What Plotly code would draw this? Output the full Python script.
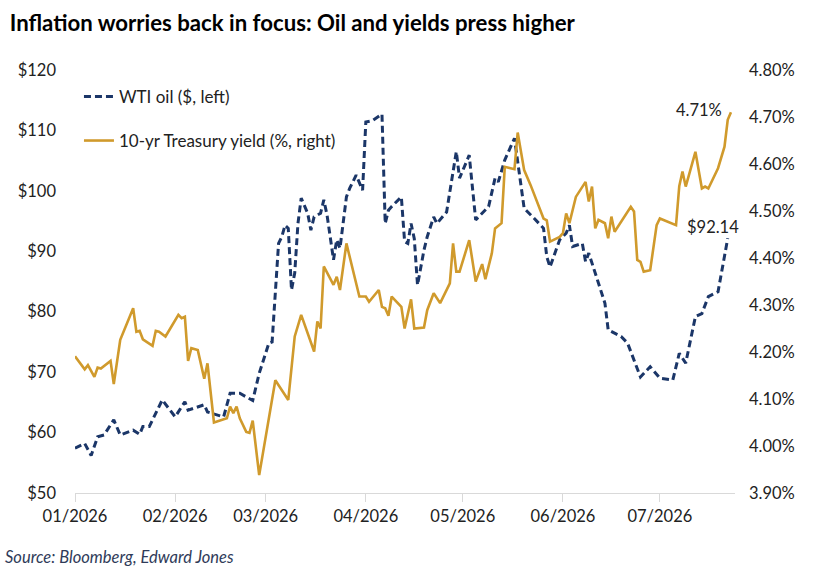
import plotly.graph_objects as go

# ---- data ----
oil_dates = [
    "2026-01-01", "2026-01-04", "2026-01-06", "2026-01-08", "2026-01-10", "2026-01-13",
    "2026-01-15", "2026-01-19", "2026-01-21", "2026-01-22", "2026-01-24", "2026-01-28",
    "2026-02-01", "2026-02-04", "2026-02-05", "2026-02-10", "2026-02-11", "2026-02-16",
    "2026-02-18", "2026-02-21", "2026-02-25", "2026-02-27", "2026-03-02", "2026-03-03",
    "2026-03-05", "2026-03-06", "2026-03-07", "2026-03-08", "2026-03-09", "2026-03-10",
    "2026-03-11", "2026-03-12", "2026-03-14", "2026-03-15", "2026-03-16", "2026-03-18",
    "2026-03-19", "2026-03-20", "2026-03-22", "2026-03-23", "2026-03-24", "2026-03-26",
    "2026-03-27", "2026-03-29", "2026-03-31", "2026-04-01", "2026-04-03", "2026-04-06",
    "2026-04-07", "2026-04-08", "2026-04-09", "2026-04-12", "2026-04-13", "2026-04-14",
    "2026-04-15", "2026-04-16", "2026-04-17", "2026-04-19", "2026-04-20", "2026-04-22",
    "2026-04-23", "2026-04-26", "2026-04-29", "2026-04-30", "2026-05-03", "2026-05-05",
    "2026-05-09", "2026-05-11", "2026-05-12", "2026-05-14", "2026-05-17", "2026-05-20",
    "2026-05-23", "2026-05-26", "2026-05-27", "2026-05-28", "2026-05-31", "2026-06-02",
    "2026-06-03", "2026-06-04", "2026-06-07", "2026-06-08", "2026-06-09", "2026-06-14",
    "2026-06-15", "2026-06-19", "2026-06-21", "2026-06-23", "2026-06-25", "2026-06-28",
    "2026-07-01", "2026-07-05", "2026-07-07", "2026-07-09", "2026-07-12", "2026-07-14",
    "2026-07-16", "2026-07-19", "2026-07-22",
]
oil_price = [
    57.4, 58.2, 56.2, 59.3, 59.6, 62.1,
    59.6, 60.4, 59.7, 61.0, 61.0, 65.4,
    62.6, 65.1, 63.7, 64.6, 63.4, 62.6,
    66.5, 66.5, 65.3, 69.8, 74.8, 75.0,
    91.3, 92.4, 94.3, 93.8, 83.6, 86.4,
    94.6, 98.8, 96.3, 93.5, 95.7, 96.3,
    98.5, 96.0, 88.6, 91.9, 90.5, 99.0,
    100.4, 102.6, 100.1, 111.4, 111.6, 112.7,
    94.6, 96.8, 97.4, 99.0, 91.6, 91.3,
    94.6, 92.1, 84.4, 90.2, 92.4, 95.7,
    94.6, 96.5, 106.5, 102.1, 105.9, 95.2,
    97.4, 102.1, 101.5, 105.1, 108.7, 97.1,
    95.5, 93.8, 89.1, 87.4, 91.9, 93.0,
    94.3, 90.8, 91.3, 88.3, 89.7, 81.4,
    77.0, 75.9, 74.8, 72.0, 69.2, 70.9,
    69.0, 68.7, 73.1, 71.5, 79.2, 79.7,
    82.5, 83.3, 92.14,
]

yield_dates = [
    "2026-01-01", "2026-01-04", "2026-01-05", "2026-01-07", "2026-01-08", "2026-01-09",
    "2026-01-12", "2026-01-13", "2026-01-15", "2026-01-19", "2026-01-20", "2026-01-21",
    "2026-01-22", "2026-01-25", "2026-01-26", "2026-01-27", "2026-01-29", "2026-02-02",
    "2026-02-03", "2026-02-04", "2026-02-05", "2026-02-06", "2026-02-08", "2026-02-10",
    "2026-02-11", "2026-02-13", "2026-02-17", "2026-02-18", "2026-02-19", "2026-02-20",
    "2026-02-21", "2026-02-23", "2026-02-24", "2026-02-25", "2026-02-27", "2026-03-02",
    "2026-03-04", "2026-03-08", "2026-03-10", "2026-03-12", "2026-03-16", "2026-03-17",
    "2026-03-18", "2026-03-19", "2026-03-22", "2026-03-23", "2026-03-24", "2026-03-26",
    "2026-03-30", "2026-04-01", "2026-04-02", "2026-04-05", "2026-04-06", "2026-04-07",
    "2026-04-08", "2026-04-09", "2026-04-12", "2026-04-13", "2026-04-15", "2026-04-16",
    "2026-04-19", "2026-04-20", "2026-04-22", "2026-04-24", "2026-04-27", "2026-04-28",
    "2026-04-29", "2026-04-30", "2026-05-03", "2026-05-05", "2026-05-07", "2026-05-08",
    "2026-05-10", "2026-05-11", "2026-05-13", "2026-05-14", "2026-05-17", "2026-05-18",
    "2026-05-20", "2026-05-22", "2026-05-26", "2026-05-27", "2026-05-28", "2026-05-31",
    "2026-06-01", "2026-06-02", "2026-06-03", "2026-06-05", "2026-06-08", "2026-06-09",
    "2026-06-10", "2026-06-11", "2026-06-12", "2026-06-14", "2026-06-15", "2026-06-16",
    "2026-06-17", "2026-06-22", "2026-06-23", "2026-06-24", "2026-06-25", "2026-06-26",
    "2026-06-28", "2026-06-30", "2026-07-01", "2026-07-06", "2026-07-07", "2026-07-08",
    "2026-07-09", "2026-07-12", "2026-07-14", "2026-07-15", "2026-07-16", "2026-07-19",
    "2026-07-21", "2026-07-22", "2026-07-23",
]
yield_pct = [
    4.191, 4.163, 4.172, 4.147, 4.167, 4.165,
    4.181, 4.132, 4.226, 4.293, 4.243, 4.245,
    4.227, 4.213, 4.245, 4.243, 4.233, 4.279,
    4.272, 4.275, 4.181, 4.208, 4.204, 4.143,
    4.176, 4.050, 4.059, 4.084, 4.070, 4.084,
    4.059, 4.030, 4.028, 4.054, 3.938, 4.062,
    4.140, 4.098, 4.233, 4.279, 4.201, 4.265,
    4.250, 4.382, 4.343, 4.360, 4.332, 4.431,
    4.318, 4.318, 4.307, 4.332, 4.296, 4.293,
    4.277, 4.318, 4.296, 4.250, 4.312, 4.250,
    4.252, 4.289, 4.325, 4.304, 4.346, 4.431,
    4.371, 4.371, 4.438, 4.350, 4.387, 4.355,
    4.410, 4.463, 4.474, 4.594, 4.589, 4.667,
    4.587, 4.555, 4.484, 4.480, 4.435, 4.445,
    4.453, 4.495, 4.474, 4.530, 4.562, 4.520,
    4.552, 4.463, 4.481, 4.474, 4.442, 4.488,
    4.456, 4.509, 4.499, 4.396, 4.392, 4.371,
    4.374, 4.470, 4.484, 4.470, 4.553, 4.584,
    4.552, 4.626, 4.548, 4.552, 4.548, 4.591,
    4.637, 4.694, 4.71,
]

oil_ticks = [50, 60, 70, 80, 90, 100, 110, 120]
yield_ticks = [3.9, 4.0, 4.1, 4.2, 4.3, 4.4, 4.5, 4.6, 4.7, 4.8]
oil_ticktext = [f"${v}" for v in oil_ticks]
yield_ticktext = [f"{v:.2f}%" for v in yield_ticks]

NAVY = "#1b3668"
GOLD = "#d09a2c"
FONT = "Lato"
TXT = "#222222"

fig = go.Figure()
fig.add_trace(go.Scatter(
    x=oil_dates, y=oil_price, name="WTI oil ($, left)", mode="lines",
    line=dict(color=NAVY, width=3, dash="7px,4px"), legendgroup="a",
))
fig.add_trace(go.Scatter(
    x=yield_dates, y=yield_pct, name="10-yr Treasury yield (%, right)", mode="lines",
    line=dict(color=GOLD, width=2.6), yaxis="y2", legendgroup="b",
))

fig.add_annotation(
    x=yield_dates[-1], y=yield_pct[-1], yref="y2", text=f"{yield_pct[-1]:.2f}%",
    showarrow=False, xanchor="right", yanchor="middle", xshift=-7, yshift=2,
    font=dict(family=FONT, size=16.5, color=TXT),
)
fig.add_annotation(
    x=oil_dates[-1], y=oil_price[-1], yref="y", text=f"${oil_price[-1]:.2f}",
    showarrow=False, xanchor="right", yanchor="middle", xshift=13, yshift=11,
    font=dict(family=FONT, size=16.5, color=TXT),
)

fig.update_layout(
    width=819, height=577,
    margin=dict(l=75, r=84, t=70, b=84),
    paper_bgcolor="white", plot_bgcolor="white",
    font=dict(family=FONT, size=16.5, color=TXT),
    title=dict(
        text="<b>Inflation worries back in focus: Oil and yields press higher</b>",
        x=0.012, xanchor="left", y=0.960, yanchor="middle",
        font=dict(family=FONT, size=22.2, color="#000000"),
    ),
    showlegend=True,
    legend=dict(
        x=0.006, y=0.979, xanchor="left", yanchor="top",
        bgcolor="rgba(0,0,0,0)", tracegroupgap=19,
        font=dict(family=FONT, size=17, color=TXT),
    ),
    xaxis=dict(
        type="date", range=["2026-01-01", "2026-07-24 06:00"],
        tick0="2026-01-01", dtick="M1", tickformat="%m/%Y",
        showgrid=False, zeroline=False,
        showline=True, linecolor="#d9d9d9", linewidth=1,
        ticks="outside", ticklen=8, tickcolor="#d9d9d9",
        ticklabelstandoff=0,
        tickfont=dict(family=FONT, size=16.5, color=TXT),
    ),
    yaxis=dict(
        range=[50, 120], tickmode="array", tickvals=oil_ticks, ticktext=oil_ticktext,
        showgrid=False, zeroline=False, showline=False,
        ticklabelstandoff=18,
        tickfont=dict(family=FONT, size=16.5, color=TXT),
    ),
    yaxis2=dict(
        range=[3.9, 4.8], tickmode="array", tickvals=yield_ticks, ticktext=yield_ticktext,
        overlaying="y", side="right",
        showgrid=False, zeroline=False, showline=False,
        ticklabelstandoff=13,
        tickfont=dict(family=FONT, size=16.5, color=TXT),
    ),
)

fig.add_annotation(
    xref="paper", yref="paper", x=-0.109, y=-0.152, xanchor="left", yanchor="middle",
    text="<i>Source: Bloomberg, Edward Jones</i>", showarrow=False,
    font=dict(family=FONT, size=16.5, color="#2f3b59"),
)

fig.write_html(
    "out.html",
    config={"displayModeBar": False},
    post_script="document.body.style.margin='0';document.body.style.padding='0';",
)
